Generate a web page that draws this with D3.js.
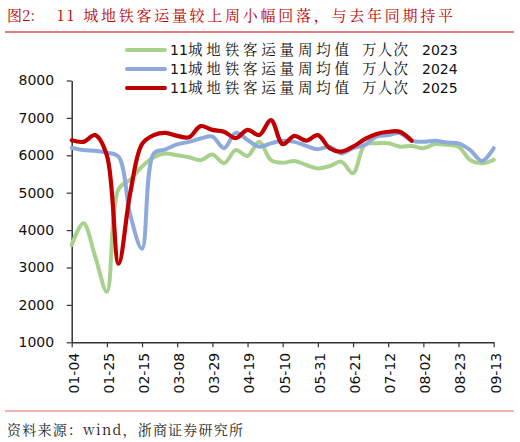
<!DOCTYPE html>
<html>
<head>
<meta charset="utf-8">
<script src="https://cdn.jsdelivr.net/npm/d3@7/dist/d3.min.js"></script>
<style>
  html, body { margin: 0; padding: 0; background: #fff; }
  svg { display: block; }
</style>
</head>
<body>
<svg id="chart" width="520" height="442"></svg>
<script>
// Weekly metro ridership, 11 cities (10k trips/day, weekly mean).
const weeks = [
  '01-04', '01-11', '01-18', '01-25', '02-01', '02-08', '02-15', '02-22', '03-01',
  '03-08', '03-15', '03-22', '03-29', '04-05', '04-12', '04-19', '04-26', '05-03',
  '05-10', '05-17', '05-24', '05-31', '06-07', '06-14', '06-21', '06-28', '07-05',
  '07-12', '07-19', '07-26', '08-02', '08-09', '08-16', '08-23', '08-30', '09-06',
  '09-13'
];
const tickLabels = weeks.filter((_, i) => i % 3 === 0);
const yTicks = [1000, 2000, 3000, 4000, 5000, 6000, 7000, 8000];

const v2023 = [3600, 4180, 3300, 2350, 5100, 5350, 5700, 5950, 6050, 6000, 5950, 5870,
  6020, 5790, 6140, 5980, 6360, 5870, 5800, 5850, 5740, 5650, 5710, 5830, 5520, 6280,
  6320, 6320, 6230, 6250, 6190, 6300, 6280, 6230, 5870, 5790, 5880];
const v2024 = [6200, 6140, 6120, 6070, 5960, 4400, 3500, 6050, 6160, 6290, 6360, 6450,
  6500, 6190, 6600, 6410, 6230, 6320, 6390, 6360, 6250, 6160, 6230, 6050, 6190, 6280,
  6500, 6540, 6590, 6390, 6360, 6390, 6340, 6320, 6140, 5850, 6190];
const v2025 = [6400, 6360, 6540, 6000, 3100, 5000, 6300, 6540, 6600, 6520, 6480, 6780,
  6680, 6630, 6460, 6680, 6540, 6940, 6300, 6520, 6390, 6540, 6190, 6100, 6230, 6430,
  6570, 6630, 6630, 6390];

const seriesNames = ['2023', '2024', '2025'];
const seriesColours = ['#a9d18e', '#8eaadc', '#c00000'];
const seriesValues = [v2023, v2024, v2025];

(function () {
  const svg = d3.select('#chart');
  const sans = '"DejaVu Sans", sans-serif';
  const cjk = '"Noto Serif CJK SC", "Noto Sans CJK SC", sans-serif';
  const ink = '#333';

  // Title + rules
  svg.append('text')
    .attr('x', 7).attr('y', 21)
    .attr('fill', '#c00000').attr('font-family', cjk).attr('font-size', 15)
    .text('图2:');
  svg.append('text')
    .attr('x', 57).attr('y', 21)
    .attr('fill', '#c00000').attr('font-family', cjk).attr('font-size', 15)
    .attr('textLength', 396).attr('lengthAdjust', 'spacing')
    .text('11 城地铁客运量较上周小幅回落，与去年同期持平');
  svg.append('line')
    .attr('x1', 5).attr('x2', 514).attr('y1', 32).attr('y2', 32)
    .attr('stroke', '#c00000').attr('stroke-width', 1);
  svg.append('line')
    .attr('x1', 5).attr('x2', 514).attr('y1', 411).attr('y2', 411)
    .attr('stroke', '#e06666').attr('stroke-width', 1);
  svg.append('text')
    .attr('x', 7).attr('y', 435)
    .attr('fill', '#222').attr('font-family', cjk).attr('font-size', 14)
    .attr('textLength', 236).attr('lengthAdjust', 'spacing')
    .text('资料来源：wind，浙商证券研究所');

  const x = d3.scalePoint().domain(weeks).range([71.7, 493.7]);
  const y = d3.scaleLinear().domain([1000, 8000]).range([342.3, 80.5]);

  // Axes
  const yAxis = svg.append('g')
    .attr('transform', 'translate(71.7,0)')
    .call(d3.axisLeft(y).tickValues(yTicks).tickSize(5).tickSizeOuter(0).tickFormat(d3.format('d')));
  yAxis.selectAll('text')
    .attr('font-family', sans).attr('font-size', 14).attr('fill', '#111')
    .attr('x', -17.5);

  const xAxis = svg.append('g')
    .attr('transform', 'translate(0,342.3)')
    .call(d3.axisBottom(x).tickValues(tickLabels).tickSize(5).tickSizeOuter(0));
  xAxis.selectAll('text')
    .attr('font-family', sans).attr('font-size', 14).attr('fill', '#111')
    .attr('transform', 'rotate(-90)')
    .attr('text-anchor', 'end')
    .attr('x', -10.5).attr('y', 1.5).attr('dy', '0.35em');

  for (const ax of [xAxis, yAxis]) {
    ax.select('.domain').attr('stroke', ink).attr('stroke-width', 1.5);
    ax.selectAll('.tick line').attr('stroke', ink).attr('stroke-width', 1.2);
  }

  // Series
  const line = d3.line()
    .x((_, i) => x(weeks[i]))
    .y(d => y(d))
    .curve(d3.curveCatmullRom.alpha(0.5));

  const plot = svg.append('g').attr('fill', 'none').attr('stroke-linejoin', 'round').attr('stroke-linecap', 'round');
  seriesValues.forEach((vals, k) => {
    plot.append('path')
      .datum(vals)
      .attr('d', line)
      .attr('stroke', seriesColours[k])
      .attr('stroke-width', k === 2 ? 4.2 : 4);
  });

  // Legend: digits in sans, Chinese stretched to the reference's spacing
  const legend = svg.append('g').attr('fill', '#111');
  seriesNames.forEach((name, k) => {
    const ly = 50 + k * 19;
    legend.append('line')
      .attr('x1', 127).attr('x2', 165).attr('y1', ly).attr('y2', ly)
      .attr('stroke', seriesColours[k]).attr('stroke-width', 4).attr('stroke-linecap', 'round');
    legend.append('text')
      .attr('x', 170).attr('y', ly + 5)
      .attr('font-family', sans).attr('font-size', 14)
      .text('11');
    legend.append('text')
      .attr('x', 188).attr('y', ly + 5)
      .attr('font-family', cjk).attr('font-size', 14.5)
      .attr('textLength', 161).attr('lengthAdjust', 'spacing')
      .text('城地铁客运量周均值');
    legend.append('text')
      .attr('x', 362).attr('y', ly + 5)
      .attr('font-family', cjk).attr('font-size', 14.5)
      .attr('textLength', 46).attr('lengthAdjust', 'spacing')
      .text('万人次');
    legend.append('text')
      .attr('x', 422).attr('y', ly + 5)
      .attr('font-family', sans).attr('font-size', 14)
      .text(name);
  });
})();
</script>
</body>
</html>
